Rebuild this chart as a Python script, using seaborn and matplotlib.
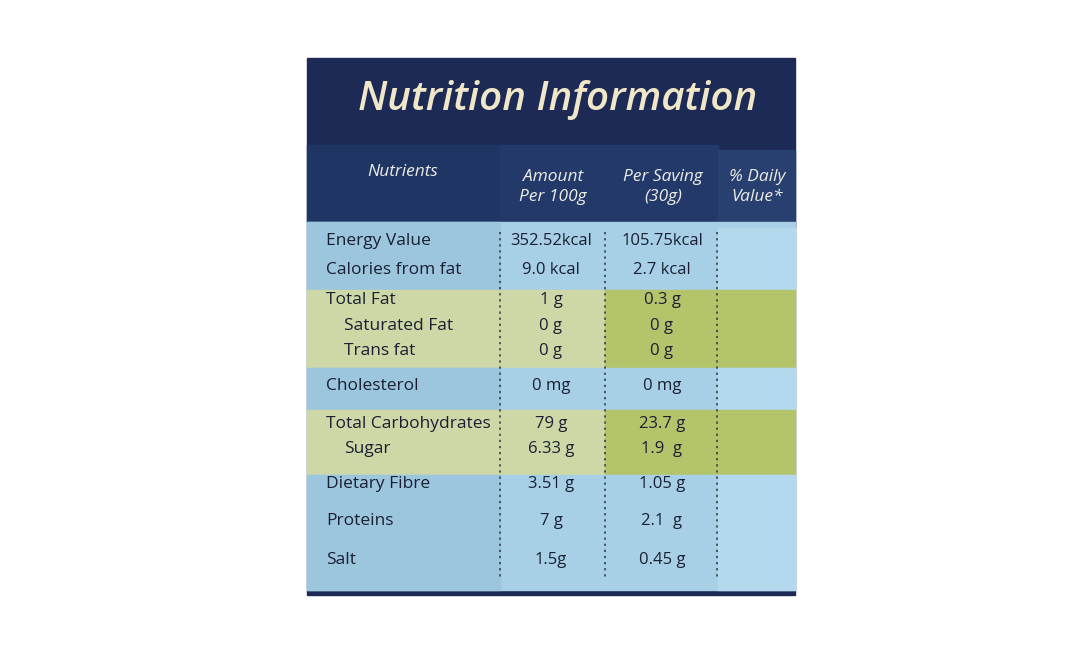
import matplotlib
matplotlib.use("Agg")
import matplotlib.pyplot as plt
import seaborn as sns
import numpy as np

title = "Nutrition Information"
headers = ["Nutrients", "Amount\nPer 100g", "Per Saving\n(30g)", "% Daily\nValue*"]
nutrients = ["Energy Value", "Calories from fat", "Total Fat", "Saturated Fat", "Trans fat",
             "Cholesterol", "Total Carbohydrates", "Sugar", "Dietary Fibre", "Proteins", "Salt"]
indent = [0, 0, 0, 1, 1, 0, 0, 1, 0, 0, 0]
per_100g = ["352.52kcal", "9.0 kcal", "1 g", "0 g", "0 g", "0 mg", "79 g", "6.33 g", "3.51 g", "7 g", "1.5g"]
per_serving = ["105.75kcal", "2.7 kcal", "0.3 g", "0 g", "0 g", "0 mg", "23.7 g", "1.9  g", "1.05 g", "2.1  g", "0.45 g"]
row_y = [241, 270, 300, 326, 351, 386, 424, 449, 484, 521, 560]
band_top = [222, 290, 368, 410, 475]
band_bot = [290, 368, 410, 475, 590]
band_kind = ["blue", "green", "blue", "green", "blue"]

sns.set_theme(style="white")
fig = plt.figure(figsize=(10.68, 6.71), dpi=100)
ax = fig.add_axes([0, 0, 1, 1])
ax.set_xlim(0, 1068); ax.set_ylim(671, 0); ax.axis("off")
fig.patch.set_facecolor("white")

L, R = 307, 795
navy = "#1c2a55"
ax.add_patch(plt.Rectangle((L, 58), R - L, 537, color=navy))
ax.add_patch(plt.Rectangle((L, 145), 193, 77, color="#1f3563"))
ax.add_patch(plt.Rectangle((500, 145), 218, 77, color="#22396a"))
ax.add_patch(plt.Rectangle((718, 150), 77, 78, color="#27406f"))

blue = "#a7d0e6"
for t, b, k in zip(band_top, band_bot, band_kind):
    if k == "blue":
        ax.add_patch(plt.Rectangle((L, t), R - L, b - t, color=blue))
        ax.add_patch(plt.Rectangle((L, t), 193, b - t, color="#9cc6de"))
        if t == 222:
            ax.add_patch(plt.Rectangle((718, 228), 77, b - 228, color="#b5d9ec"))
        else:
            ax.add_patch(plt.Rectangle((718, t), 77, b - t, color="#b5d9ec"))
    else:
        ax.add_patch(plt.Rectangle((L, t), 298, b - t, color="#cdd8a6"))
        ax.add_patch(plt.Rectangle((605, t), R - 605, b - t, color="#b3c46b"))

for x in [500, 605, 717]:
    ax.plot([x, x], [232, 580], ls=(0, (1.5, 2.5)), color="#333344", lw=1.1)

ax.text(558, 100, title, ha="center", va="center", fontsize=29, style="italic",
        weight="semibold", color="#f0e6c8", family="Open Sans")
hx = [403, 553, 663, 757]
for x, h in zip(hx, headers):
    ax.text(x, 172 if h == "Nutrients" else 187, h, ha="center", va="center", fontsize=12.5,
            style="italic", color="#ecebe4", family="Open Sans", linespacing=1.4)

for n, ind, a, s, y in zip(nutrients, indent, per_100g, per_serving, row_y):
    ax.text(326 + 18 * ind, y, n, ha="left", va="center", fontsize=12.5, color="#1a1f33", family="Open Sans")
    ax.text(551, y, a, ha="center", va="center", fontsize=12, color="#1a1f33", family="Open Sans")
    ax.text(662, y, s, ha="center", va="center", fontsize=12, color="#1a1f33", family="Open Sans")

fig.savefig("out.png", dpi=100, facecolor="white")
